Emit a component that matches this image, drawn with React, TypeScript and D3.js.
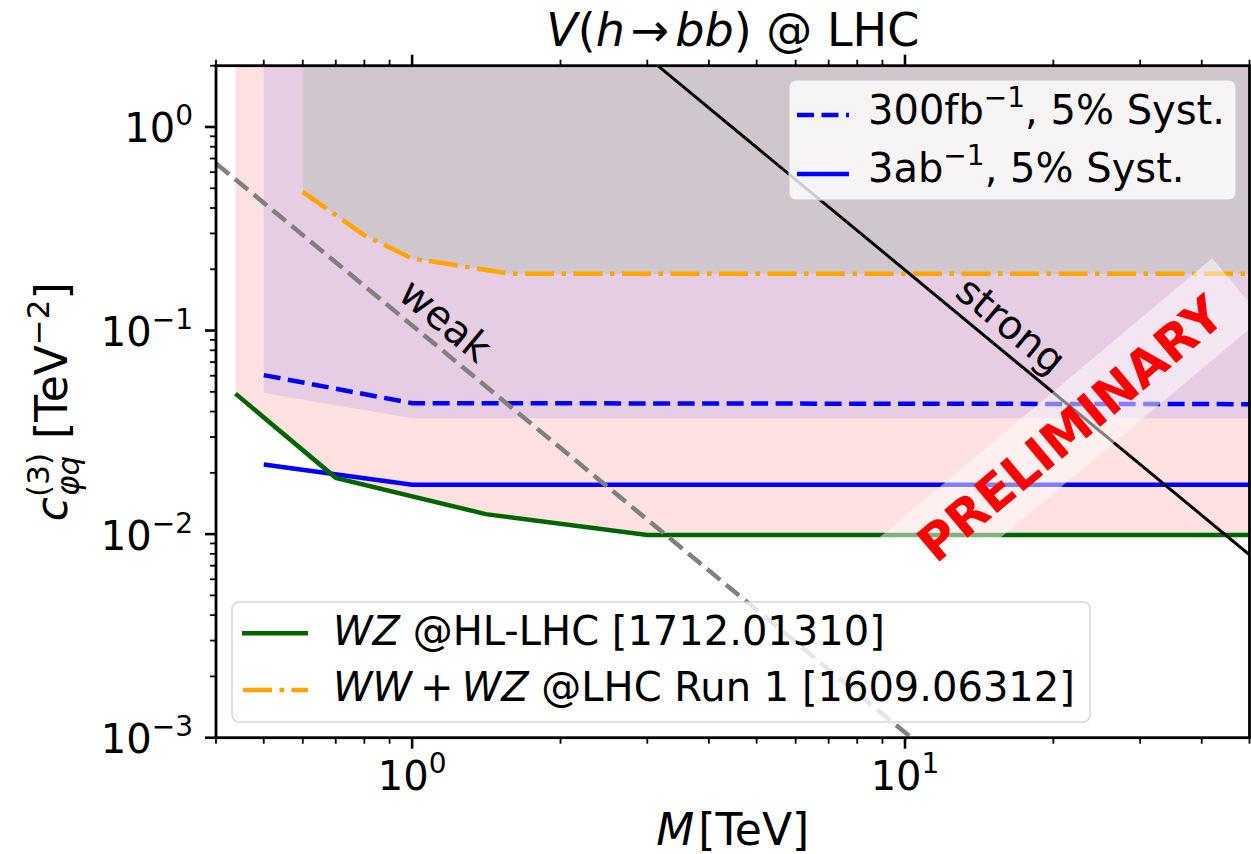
import React from 'react';
import * as d3 from 'd3';

const W = 1251;
const H = 854;
const FONT = 'DejaVu Sans';

// Axis ranges (log-log)
const xDomain: [number, number] = [0.4, 50];
const yDomain: [number, number] = [1e-3, 2];

// Bounds on c_phiq^(3) [TeV^-2] versus M [TeV]
const wzHLLHC: [number, number][] = [
  [0.438, 0.049], [0.7, 0.0189], [1.41, 0.01254], [3.0, 0.0099], [50, 0.0099],
];
const wwwzRun1: [number, number][] = [
  [0.6, 0.48], [0.8, 0.294], [1.0, 0.226], [1.585, 0.19], [50, 0.19],
];
const vhbb300fb: [number, number][] = [[0.5, 0.0604], [1.0, 0.044], [50, 0.0435]];
const vhbb3ab: [number, number][] = [[0.5, 0.022], [1.0, 0.0175], [50, 0.0175]];
const vhbbBand: [number, number][] = [[0.5, 0.0493], [1.0, 0.0371], [50, 0.0371]];

// Power-counting reference lines (endpoints)
const weakLine: [number, number][] = [[0.4, 0.6625], [10.3, 0.001]];
const strongLine: [number, number][] = [[3.15, 2], [50, 0.00792]];

// Text anchors in data coordinates
const weakLabelPos: [number, number] = [1.169, 0.1126];
const strongLabelPos: [number, number] = [16.43, 0.1064];
const prelimPos: [number, number] = [21.64, 0.0331];

const xMajor = [1, 10];
const yMajor = [1e-3, 1e-2, 1e-1, 1];
const xMajorExp = ['0', '1'];
const yMajorExp = ['\u22123', '\u22122', '\u22121', '0'];

const COLORS = {
  pink: '#ffe1e1',
  purple: '#e6cde4',
  gray: '#d0c7ce',
  green: '#006400',
  orange: '#ffa500',
  blue: '#0000ff',
};

export default function App() {
  const left = 216, right = 1249.5, top = 65.7, bottom = 737.7;
  const x = d3.scaleLog().domain(xDomain).range([left, right]);
  const y = d3.scaleLog().domain(yDomain).range([bottom, top]);

  const line = d3.line<[number, number]>().x(d => x(d[0])).y(d => y(d[1]));
  const areaTop = d3.area<[number, number]>().x(d => x(d[0])).y0(y(yDomain[1])).y1(d => y(d[1]));

  const xTicks = x.ticks().filter(v => v >= xDomain[0] - 1e-9 && v <= xDomain[1] + 1e-9);
  const yTicks = y.ticks().filter(v => v >= yDomain[0] - 1e-12 && v <= yDomain[1] + 1e-9);
  const isMajor = (v: number) => Math.abs(Math.log10(v) - Math.round(Math.log10(v))) < 1e-6;

  const lw = 4.5;
  const angle = Math.atan2(y(weakLine[1][1]) - y(weakLine[0][1]), x(weakLine[1][0]) - x(weakLine[0][0])) * 180 / Math.PI;

  const [px, py] = [x(prelimPos[0]), y(prelimPos[1])];

  return (
    <svg width={W} height={H} style={{ position: 'absolute', left: 0, top: 0, background: '#fff' }}
      fontFamily={FONT}>
      <defs>
        <clipPath id="plotArea">
          <rect x={left} y={top} width={right - left} height={bottom - top} />
        </clipPath>
      </defs>

      <g clipPath="url(#plotArea)">
        {/* excluded regions */}
        <path d={areaTop(wzHLLHC) || ''} fill={COLORS.pink} />
        <path d={areaTop(vhbbBand) || ''} fill={COLORS.purple} />
        <path d={areaTop(wwwzRun1) || ''} fill={COLORS.gray} />

        {/* bounds */}
        <path d={line(wwwzRun1) || ''} fill="none" stroke={COLORS.orange} strokeWidth={lw}
          strokeDasharray="29,7.5,4.5,7.5" />
        <path d={line(vhbb300fb) || ''} fill="none" stroke={COLORS.blue} strokeWidth={lw}
          strokeDasharray="17,7.5" />
        <path d={line(vhbb3ab) || ''} fill="none" stroke={COLORS.blue} strokeWidth={lw} />
        <path d={line(wzHLLHC) || ''} fill="none" stroke={COLORS.green} strokeWidth={lw} />

        {/* weak / strong reference lines */}
        <path d={line(weakLine) || ''} fill="none" stroke="#808080" strokeWidth={lw}
          strokeDasharray="17,7.5" />
        <path d={line(strongLine) || ''} fill="none" stroke="#000" strokeWidth={3} />

        <text x={x(weakLabelPos[0])} y={y(weakLabelPos[1])} fontSize={40} textAnchor="middle" dy="0.35em"
          transform={`rotate(${angle} ${x(weakLabelPos[0])} ${y(weakLabelPos[1])})`}>weak</text>
        <text x={x(strongLabelPos[0])} y={y(strongLabelPos[1])} fontSize={40} textAnchor="middle" dy="0.35em"
          transform={`rotate(${angle} ${x(strongLabelPos[0])} ${y(strongLabelPos[1])})`}>strong</text>

        {/* preliminary stamp */}
        <g transform={`translate(${px} ${py}) rotate(-40)`}>
          <rect x={-218} y={-39} width={436} height={78} fill="#fff" fillOpacity={0.5} />
          <text x={0} y={0} dy="0.36em" textAnchor="middle" fontSize={50} fontWeight="bold" fill="#ff0000">PRELIMINARY</text>
        </g>
      </g>

      {/* spines */}
      <rect x={left} y={top} width={right - left} height={bottom - top} fill="none" stroke="#000" strokeWidth={2.8} />

      {/* x ticks, bottom and top */}
      {xTicks.map((v, i) => {
        const m = isMajor(v);
        const len = m ? 11 : 6;
        const sw = m ? 2.6 : 1.8;
        return (
          <g key={`xt${i}`} stroke="#000" strokeWidth={sw}>
            <line x1={x(v)} x2={x(v)} y1={bottom} y2={bottom + len} />
            <line x1={x(v)} x2={x(v)} y1={top} y2={top - len} />
          </g>
        );
      })}
      {/* y ticks, left */}
      {yTicks.map((v, i) => {
        const m = isMajor(v);
        const len = m ? 11 : 6;
        const sw = m ? 2.6 : 1.8;
        return <line key={`yt${i}`} x1={left - len} x2={left} y1={y(v)} y2={y(v)} stroke="#000" strokeWidth={sw} />;
      })}

      {xMajor.map((v, i) => (
        <text key={`xl${i}`} x={x(v)} y={790} fontSize={40} textAnchor="middle">
          10<tspan fontSize={28} dy={-17}>{xMajorExp[i]}</tspan>
        </text>
      ))}
      {yMajor.map((v, i) => (
        <text key={`yl${i}`} x={193} y={y(v) + 15.5} fontSize={40} textAnchor="end">
          10<tspan fontSize={28} dy={-17}>{yMajorExp[i]}</tspan>
        </text>
      ))}

      {/* title */}
      <text x={(left + right) / 2} y={46} fontSize={46} textAnchor="middle">
        <tspan fontStyle="italic">V</tspan>(<tspan fontStyle="italic">h</tspan>
        <tspan dx={6}>{'\u2192'}</tspan><tspan dx={6} fontStyle="italic">bb</tspan>) @ LHC
      </text>

      {/* axis labels */}
      <text x={(left + right) / 2} y={845} fontSize={44} textAnchor="middle">
        <tspan fontStyle="italic">M</tspan><tspan dx={4}>[TeV]</tspan>
      </text>
      <g transform={`translate(67 ${(top + bottom) / 2}) rotate(-90)`}>
        <text x={0} y={0} fontSize={44} textAnchor="middle">
          <tspan fontStyle="italic">c</tspan>
          <tspan fontSize={31} dy={-18}>(3)</tspan>
          <tspan fontSize={31} fontStyle="italic" dx={-43} dy={30}>{'\u03c6q'}</tspan>
          <tspan fontSize={44} dx={3} dy={-12}> [TeV</tspan>
          <tspan fontSize={31} dy={-18}>{'\u22122'}</tspan>
          <tspan fontSize={44} dy={18}>]</tspan>
        </text>
      </g>

      {/* legend: Vh(bb) projections */}
      <g>
        <rect x={789} y={80} width={447} height={120} rx={7} fill="#fff" fillOpacity={0.8}
          stroke="#cccccc" strokeOpacity={0.8} strokeWidth={1.5} />
        <line x1={797} x2={849} y1={115} y2={115} stroke={COLORS.blue} strokeWidth={lw} strokeDasharray="17,7.5" />
        <line x1={797} x2={849} y1={174} y2={174} stroke={COLORS.blue} strokeWidth={lw} />
        <text x={868} y={123.5} fontSize={40}>
          300fb<tspan fontSize={28} dy={-17}>{'\u22121'}</tspan><tspan dy={17}>, 5% Syst.</tspan>
        </text>
        <text x={868} y={182} fontSize={40}>
          3ab<tspan fontSize={28} dy={-17}>{'\u22121'}</tspan><tspan dy={17}>, 5% Syst.</tspan>
        </text>
      </g>

      {/* legend: diboson bounds */}
      <g>
        <rect x={232} y={602} width={858} height={120} rx={7} fill="#fff" fillOpacity={0.8}
          stroke="#cccccc" strokeOpacity={0.8} strokeWidth={1.5} />
        <line x1={242} x2={308} y1={633.3} y2={633.3} stroke={COLORS.green} strokeWidth={lw} />
        <line x1={243} x2={308} y1={690} y2={690} stroke={COLORS.orange} strokeWidth={lw}
          strokeDasharray="29,7.5,4.5,7.5" />
        <text x={333} y={645} fontSize={40}>
          <tspan fontStyle="italic">WZ</tspan> @HL-LHC [1712.01310]
        </text>
        <text x={333} y={701} fontSize={40}>
          <tspan fontStyle="italic">WW</tspan><tspan dx={8}>+</tspan><tspan dx={8} fontStyle="italic">WZ</tspan> @LHC Run 1 [1609.06312]
        </text>
      </g>
    </svg>
  );
}
